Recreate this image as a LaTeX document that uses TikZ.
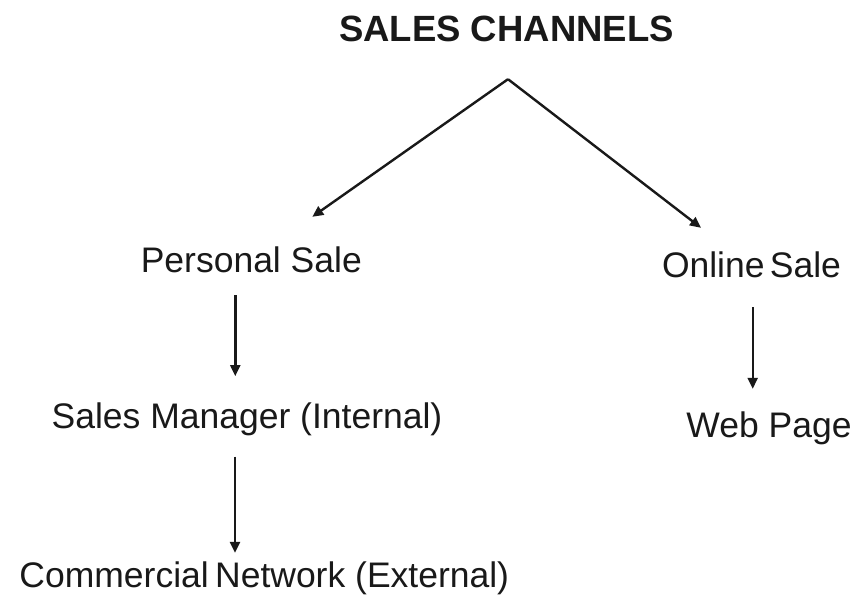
\documentclass[tikz,border=0pt]{standalone}
\usepackage{fontspec}
\setmainfont{Liberation Sans}
\usetikzlibrary{arrows.meta,calc}
\begin{document}
\begin{tikzpicture}[x=1pt,y=-1pt,
  label/.style={anchor=base,inner sep=0pt,text height=24pt,text depth=0pt,
    text=black!90,font=\fontsize{35.5}{40}\selectfont},
  headline/.style={label,font=\bfseries\fontsize{36.5}{42}\selectfont},
  arr/.style={line width=2.4pt,draw=black!90,-{Triangle[length=11pt,width=10pt]}}]
  \useasboundingbox[fill=white] (0,0) rectangle (854,603);

  % labels, placed on their baselines
  \node[headline] (title) at (506.5,41.7) {SALES CHANNELS};
  \node[label] (ps) at (251.3,272) {Personal Sale};
  \node[label] (os) at (751.5,277) {Online\hspace{0.15em}Sale};
  \node[label] (sm) at (247,428.3) {Sales Manager (Internal)};
  \node[label] (cn) at (264.3,587) {Commercial\hspace{0.18em}Network (External)};
  \node[label] (wp) at (769,437) {Web Page};

  % the two branches start from one point under the heading
  \coordinate (apex) at ($(title.south)+(1.5,37.3)$);
  \coordinate (tipL) at ($(ps.north)+(61,-31)$);
  \coordinate (tipR) at ($(os.north)+(-50.5,-25)$);
  \draw[arr] (apex) -- (tipL);
  \draw[arr] (apex) -- (tipR);

  % vertical steps
  \draw[arr] ($(ps.south)+(-16,23)$) -- ($(ps.south |- sm.north)+(-16,-28)$);
  \draw[arr] ($(sm.south)+(-12,28)$) -- ($(sm.south |- cn.north)+(-12,-10)$);
  \draw[arr] ($(os.south)+(1.2,30)$) -- ($(os.south |- wp.north)+(1.2,-24)$);
\end{tikzpicture}
\end{document}
